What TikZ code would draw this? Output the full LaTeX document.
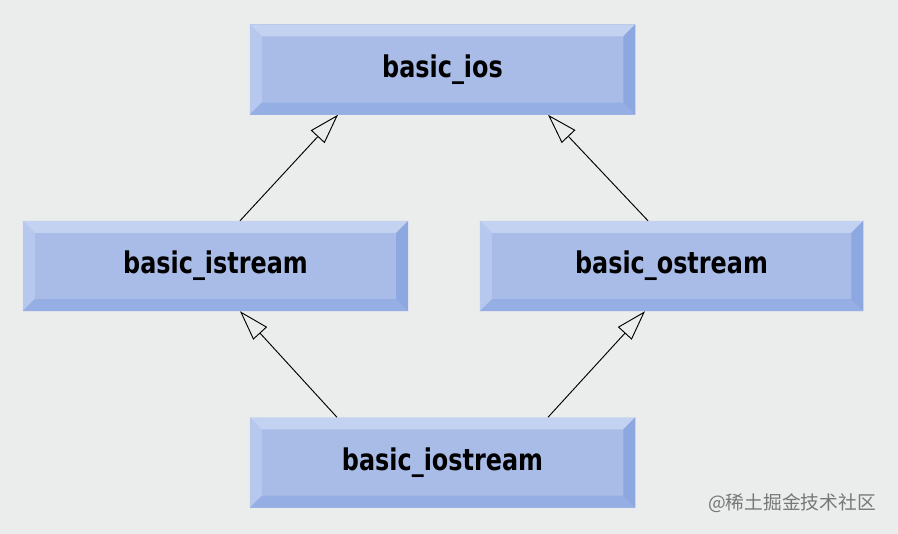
\documentclass[tikz,border=0pt]{standalone}
\usepackage{fontspec}
\usepackage{xcolor}
\usepackage{tikz}
\usetikzlibrary{arrows.meta,positioning,calc}
\newfontfamily\boxfont[FakeStretch=0.8]{DejaVu Sans Bold}
\newfontfamily\cjkfont{Noto Sans CJK SC}
\definecolor{paper}{HTML}{EBECEC}
\definecolor{face}{HTML}{A9BCE8}
\definecolor{bevtop}{HTML}{C3D2F0}
\definecolor{bevleft}{HTML}{B7C8EE}
\definecolor{bevbottom}{HTML}{95AEE3}
\definecolor{bevright}{HTML}{8DA7E1}
\definecolor{mark}{HTML}{777777}
\tikzset{
  classbox/.style={
    rectangle, fill=face, inner sep=0pt,
    minimum width=11.55cm, minimum height=2.7cm,
    font=\boxfont\fontsize{25.5}{30}\selectfont, text=black
  },
  inherit/.style={
    -{Triangle[open, length=0.9cm, width=0.56cm, fill=paper]}, line width=0.8pt, black
  },
}
\newcommand{\bevel}[1]{%
  \fill[bevtop] (#1.north west) -- (#1.north east)
    -- ([shift={(-0.36cm,-0.36cm)}]#1.north east) -- ([shift={(0.36cm,-0.36cm)}]#1.north west) -- cycle;
  \fill[bevleft] (#1.north west) -- ([shift={(0.36cm,-0.36cm)}]#1.north west)
    -- ([shift={(0.36cm,0.36cm)}]#1.south west) -- (#1.south west) -- cycle;
  \fill[bevbottom] (#1.south west) -- ([shift={(0.36cm,0.36cm)}]#1.south west)
    -- ([shift={(-0.36cm,0.36cm)}]#1.south east) -- (#1.south east) -- cycle;
  \fill[bevright] (#1.north east) -- (#1.south east)
    -- ([shift={(-0.36cm,0.36cm)}]#1.south east) -- ([shift={(-0.36cm,-0.36cm)}]#1.north east) -- cycle;
}
\begin{document}
\begin{tikzpicture}[x=0.03cm, y=-0.03cm]
    \fill[paper] (0,0) rectangle (898,534);
    \useasboundingbox (0,0) rectangle (898,534);
    \node[classbox] (ios) at (442.5,69.5) {basic\_ios};
    \node[classbox] (istream) at (215.5,266) {basic\_istream};
    \node[classbox, minimum width=11.49cm] (ostream) at (671.5,266) {basic\_ostream};
    \node[classbox] (iostream) at (442.5,462.5) {basic\_iostream};
    \bevel{ios}
    \bevel{istream}
    \bevel{ostream}
    \bevel{iostream}
    \draw[inherit] ([xshift=0.735cm]istream.north) -- ([xshift=-3.135cm]ios.south);
    \draw[inherit] ([xshift=-0.705cm]ostream.north) -- ([xshift=3.165cm]ios.south);
    \draw[inherit] ([xshift=-3.165cm]iostream.north) -- ([xshift=0.735cm]istream.south);
    \draw[inherit] ([xshift=3.165cm]iostream.north) -- ([xshift=-0.795cm]ostream.south);
    \node[font=\cjkfont\fontsize{16}{18}\selectfont, text=mark, anchor=east] (wmark) at (880,503) {@稀土掘金技术社区};
\end{tikzpicture}
\end{document}
